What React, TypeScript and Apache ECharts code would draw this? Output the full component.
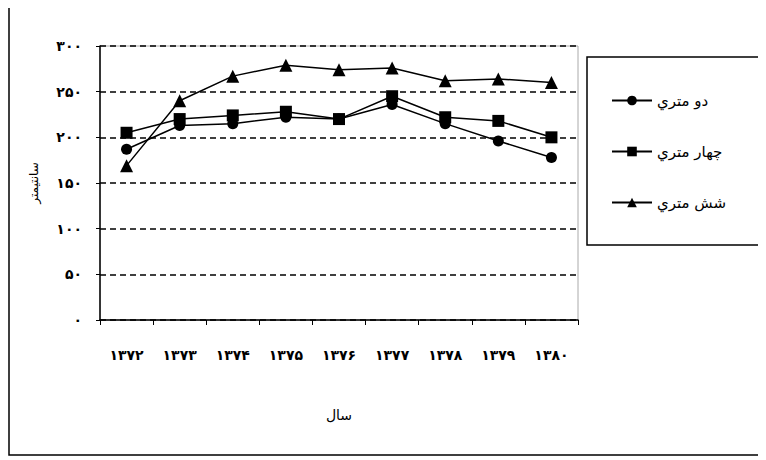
import React, { useEffect, useRef } from "react";
import * as echarts from "echarts";

const categories = ["۱۳۷۲", "۱۳۷۳", "۱۳۷۴", "۱۳۷۵", "۱۳۷۶", "۱۳۷۷", "۱۳۷۸", "۱۳۷۹", "۱۳۸۰"];
const twoMeter = [187, 213, 215, 222, 220, 236, 215, 196, 178];
const fourMeter = [205, 220, 224, 228, 220, 245, 222, 218, 200];
const sixMeter = [169, 240, 267, 279, 274, 276, 262, 264, 260];
const seriesNames = ["دو متري", "چهار متري", "شش متري"];
const yTicks: Record<number, string> = { 0: "۰", 50: "۵۰", 100: "۱۰۰", 150: "۱۵۰", 200: "۲۰۰", 250: "۲۵۰", 300: "۳۰۰" };

export default function App() {
  const ref = useRef<HTMLDivElement>(null);
  useEffect(() => {
    const chart = echarts.init(ref.current!, undefined, { renderer: "svg" });
    const mk = (name: string, data: number[], symbol: string, size: number) => ({
      name, type: "line", data, symbol, symbolSize: size,
      lineStyle: { color: "#000", width: 1.5 }, itemStyle: { color: "#000" },
    });
    chart.setOption({
      animation: false,
      backgroundColor: "#fff",
      textStyle: { fontFamily: "DejaVu Sans" },
      grid: { left: 92, right: 188, top: 38, bottom: 140, show: true, borderColor: "#aaa", borderWidth: 1, backgroundColor: "transparent" },
      xAxis: {
        type: "category", data: categories, boundaryGap: true,
        name: "سال", nameLocation: "middle", nameGap: 88, nameTextStyle: { fontSize: 14, color: "#000" },
        axisLine: { lineStyle: { color: "#000", width: 1.5 } },
        axisTick: { show: true, length: 5, inside: false, lineStyle: { color: "#000" } },
        axisLabel: { margin: 28, fontSize: 14, fontWeight: "bold", color: "#000" },
      },
      yAxis: {
        type: "value", min: 0, max: 300, interval: 50,
        name: "سانتیمتر", nameLocation: "middle", nameGap: 60, nameTextStyle: { fontSize: 12, color: "#000" },
        axisLine: { show: true, lineStyle: { color: "#000", width: 1.5 } },
        axisTick: { show: true, length: 4, lineStyle: { color: "#000" } },
        axisLabel: { margin: 18, fontSize: 14, fontWeight: "bold", color: "#000", formatter: (v: number) => yTicks[v] ?? "" },
        splitLine: { lineStyle: { color: "#000", type: [6, 4], width: 1.5 } },
      },
      legend: {
        orient: "vertical", left: 598, top: 80, itemGap: 36, itemWidth: 40, itemHeight: 12,
        textStyle: { fontSize: 15, color: "#000" },
        data: seriesNames,
      },
      graphic: [
        { type: "rect", shape: { x: 1, y: -4, width: 800, height: 451 }, style: { fill: "none", stroke: "#000", lineWidth: 1.5 } },
        { type: "rect", shape: { x: 579, y: 49, width: 200, height: 188 }, style: { fill: "none", stroke: "#000", lineWidth: 1.5 } },
      ],
      series: [
        mk(seriesNames[0], twoMeter, "circle", 11),
        mk(seriesNames[1], fourMeter, "rect", 12),
        mk(seriesNames[2], sixMeter, "triangle", 13),
      ],
    });
    return () => chart.dispose();
  }, []);
  return <div ref={ref} style={{ width: 758, height: 452 }} />;
}
